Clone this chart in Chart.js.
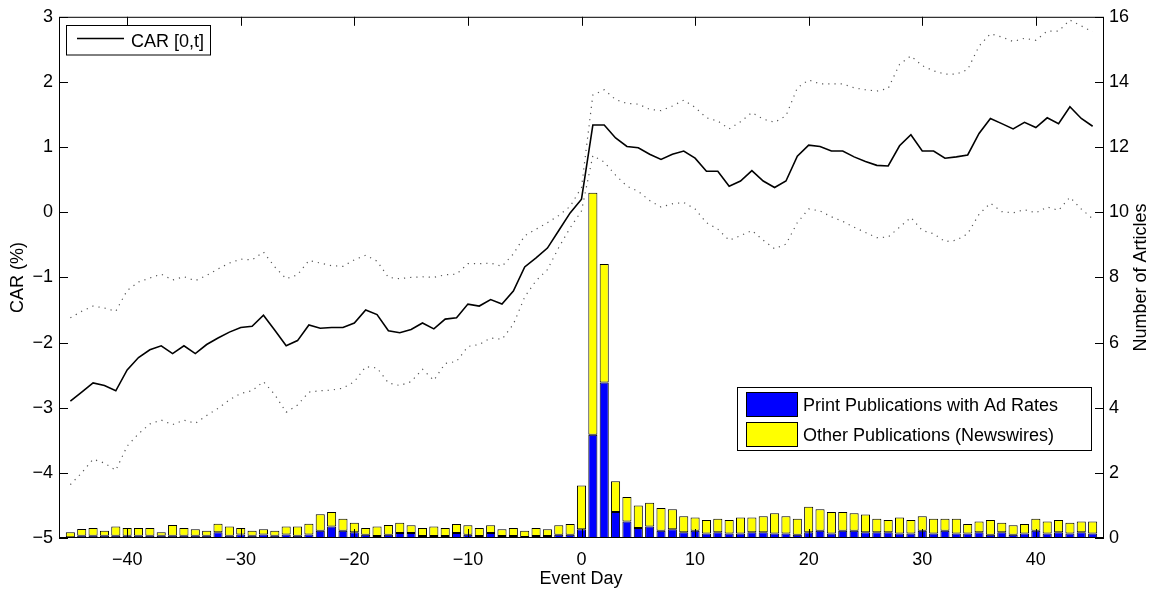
<!DOCTYPE html>
<html lang="en">
<head>
<meta charset="UTF-8">
<title>CAR [0,t] and articles per event day</title>
<script src="https://cdn.jsdelivr.net/npm/chart.js"></script>
<style>
  html, body { margin: 0; padding: 0; background: #fff; }
</style>
</head>
<body>
<canvas id="myChart" width="1155" height="592"></canvas>
<script>
// event days and values
const eventDays = [-45,-44,-43,-42,-41,-40,-39,-38,-37,-36,-35,-34,-33,-32,-31,-30,-29,-28,-27,-26,-25,-24,-23,-22,-21,-20,-19,-18,-17,-16,-15,-14,-13,-12,-11,-10,-9,-8,-7,-6,-5,-4,-3,-2,-1,
  0,1,2,3,4,5,6,7,8,9,10,11,12,13,14,15,16,17,18,19,20,21,22,23,24,25,26,27,28,29,30,31,32,33,34,35,36,37,38,39,40,41,42,43,44,45];

const car = [-2.90,-2.76,-2.62,-2.66,-2.74,-2.42,-2.23,-2.11,-2.05,-2.17,-2.05,-2.17,-2.03,-1.93,-1.84,-1.77,-1.75,-1.58,-1.81,-2.05,-1.97,-1.73,-1.78,-1.77,-1.77,-1.70,-1.50,-1.57,-1.82,-1.85,-1.80,-1.70,-1.79,-1.64,-1.62,-1.41,-1.44,-1.34,-1.41,-1.21,-0.84,-0.70,-0.55,-0.28,-0.01,
  0.20,1.34,1.34,1.14,1.01,0.99,0.89,0.81,0.89,0.94,0.83,0.63,0.63,0.40,0.48,0.64,0.48,0.38,0.48,0.86,1.03,1.01,0.94,0.94,0.85,0.78,0.72,0.71,1.02,1.19,0.94,0.94,0.83,0.85,0.88,1.21,1.44,1.36,1.28,1.38,1.30,1.45,1.36,1.62,1.44,1.32];

const carUpper = [-1.62,-1.52,-1.44,-1.47,-1.52,-1.20,-1.07,-1.01,-0.95,-1.04,-0.99,-1.05,-0.97,-0.87,-0.78,-0.72,-0.73,-0.61,-0.84,-1.02,-0.96,-0.74,-0.78,-0.82,-0.83,-0.73,-0.66,-0.75,-1.00,-1.02,-1.00,-0.99,-1.00,-0.96,-0.95,-0.79,-0.79,-0.78,-0.83,-0.64,-0.36,-0.26,-0.16,-0.05,0.09,
  0.38,1.80,1.88,1.73,1.67,1.66,1.58,1.56,1.63,1.72,1.61,1.45,1.40,1.28,1.39,1.53,1.43,1.38,1.48,1.91,2.03,1.97,1.97,1.97,1.91,1.88,1.86,1.90,2.27,2.40,2.25,2.17,2.12,2.12,2.19,2.55,2.74,2.69,2.62,2.67,2.64,2.78,2.78,2.95,2.86,2.77];

const carLower = [-4.18,-4.00,-3.79,-3.85,-3.96,-3.59,-3.40,-3.25,-3.19,-3.26,-3.19,-3.24,-3.12,-3.01,-2.88,-2.78,-2.74,-2.60,-2.80,-3.07,-2.96,-2.76,-2.74,-2.73,-2.70,-2.60,-2.37,-2.39,-2.62,-2.66,-2.60,-2.41,-2.58,-2.32,-2.29,-2.06,-2.03,-1.93,-1.95,-1.72,-1.30,-1.05,-0.88,-0.54,-0.24,
  0.02,0.87,0.77,0.57,0.40,0.32,0.18,0.08,0.13,0.15,0.05,-0.16,-0.26,-0.43,-0.36,-0.28,-0.43,-0.56,-0.49,-0.16,0.05,0.02,-0.07,-0.14,-0.23,-0.31,-0.39,-0.38,-0.23,-0.08,-0.28,-0.33,-0.45,-0.43,-0.33,-0.03,0.14,0.01,-0.01,0.04,-0.01,0.08,0.03,0.23,0.05,-0.10];

const printArticles = [0.02,0.07,0.07,0.07,0.07,0.07,0.07,0.07,0.07,0.07,0.07,0.07,0.07,0.18,0.07,0.11,0.07,0.11,0.07,0.11,0.07,0.11,0.22,0.35,0.22,0.18,0.10,0.06,0.10,0.15,0.15,0.06,0.06,0.06,0.15,0.10,0.06,0.15,0.06,0.06,0.03,0.06,0.06,0.10,0.10,
  0.27,3.17,4.77,0.80,0.51,0.31,0.35,0.22,0.27,0.18,0.22,0.14,0.18,0.14,0.14,0.18,0.18,0.14,0.14,0.10,0.18,0.22,0.14,0.22,0.22,0.18,0.18,0.18,0.14,0.14,0.22,0.14,0.22,0.14,0.14,0.18,0.10,0.18,0.10,0.14,0.22,0.14,0.18,0.14,0.18,0.14];

const otherArticles = [0.16,0.21,0.24,0.15,0.28,0.24,0.24,0.24,0.11,0.33,0.24,0.20,0.15,0.26,0.28,0.20,0.15,0.16,0.15,0.24,0.28,0.33,0.51,0.45,0.37,0.29,0.21,0.29,0.30,0.32,0.24,0.25,0.29,0.25,0.28,0.29,0.25,0.24,0.21,0.25,0.19,0.25,0.21,0.29,0.33,
  1.34,7.43,3.64,0.94,0.75,0.69,0.73,0.70,0.61,0.49,0.41,0.41,0.41,0.41,0.49,0.45,0.49,0.62,0.53,0.49,0.78,0.66,0.66,0.58,0.54,0.54,0.41,0.37,0.49,0.41,0.45,0.45,0.37,0.45,0.29,0.33,0.45,0.29,0.29,0.29,0.37,0.37,0.37,0.33,0.33,0.37];

const dayTicks = [-40, -30, -20, -10, 0, 10, 20, 30, 40];
const carTicks = [-5, -4, -3, -2, -1, 0, 1, 2, 3];
const articleTicks = [0, 2, 4, 6, 8, 10, 12, 14, 16];

const FONT = 'Liberation Sans, Arial, Helvetica, sans-serif';
const tickFont = { family: FONT, size: 18 };
const TICK_LEN = 9;

function minus(v) {
    return String(v).replace('-', '\u2212');
}

// box, inward ticks on every side, axis titles and the two legend boxes (like matlab)
const matlabFrame = {
    id: 'matlabFrame',
    afterDraw(chart) {
        const { ctx, chartArea: a, scales } = chart;
        ctx.save();
        ctx.strokeStyle = '#000';
        ctx.lineWidth = 1;
        ctx.strokeRect(a.left + 0.5, a.top + 0.5, a.right - a.left - 1, a.bottom - a.top - 1);

        ctx.beginPath();
        scales.x.ticks.forEach(t => {
            const px = Math.round(scales.x.getPixelForValue(t.value)) + 0.5;
            ctx.moveTo(px, a.bottom); ctx.lineTo(px, a.bottom - TICK_LEN);
            ctx.moveTo(px, a.top); ctx.lineTo(px, a.top + TICK_LEN);
        });
        scales.y.ticks.forEach(t => {
            const py = Math.round(scales.y.getPixelForValue(t.value)) + 0.5;
            ctx.moveTo(a.left, py); ctx.lineTo(a.left + TICK_LEN, py);
        });
        scales.y2.ticks.forEach(t => {
            const py = Math.round(scales.y2.getPixelForValue(t.value)) + 0.5;
            ctx.moveTo(a.right, py); ctx.lineTo(a.right - TICK_LEN, py);
        });
        ctx.stroke();

        // axis titles
        ctx.fillStyle = '#000';
        ctx.font = '18px ' + FONT;
        ctx.textAlign = 'center';
        ctx.textBaseline = 'middle';
        const midY = (a.top + a.bottom) / 2;
        ctx.fillText('Event Day', 581, 579);
        ctx.save();
        ctx.translate(18, midY);
        ctx.rotate(-Math.PI / 2);
        ctx.fillText('CAR (%)', 0, 0);
        ctx.restore();
        ctx.save();
        ctx.translate(1141, midY);
        ctx.rotate(-Math.PI / 2);
        ctx.fillText('Number of Articles', 0, 0);
        ctx.restore();

        // legend: CAR line
        ctx.textAlign = 'left';
        ctx.textBaseline = 'alphabetic';
        ctx.fillStyle = '#fff';
        ctx.fillRect(66.5, 25.5, 144, 29.5);
        ctx.strokeRect(66.5, 25.5, 144, 29.5);
        ctx.beginPath();
        ctx.lineWidth = 1.5;
        ctx.moveTo(77, 38.5); ctx.lineTo(124, 38.5);
        ctx.stroke();
        ctx.lineWidth = 1;
        ctx.fillStyle = '#000';
        ctx.fillText('CAR [0,t]', 131, 46.5);

        // legend: article bars
        ctx.fillStyle = '#fff';
        ctx.fillRect(737.5, 387.5, 354, 63);
        ctx.strokeRect(737.5, 387.5, 354, 63);
        ctx.fillStyle = '#0000ff';
        ctx.fillRect(746.5, 392.5, 51, 24);
        ctx.strokeRect(746.5, 392.5, 51, 24);
        ctx.fillStyle = '#ffff00';
        ctx.fillRect(746.5, 422.5, 51, 24);
        ctx.strokeRect(746.5, 422.5, 51, 24);
        ctx.fillStyle = '#000';
        ctx.fillText('Print Publications with Ad Rates', 803, 411);
        ctx.fillText('Other Publications (Newswires)', 803, 441);
        ctx.restore();
    }
};

const ctx = document.getElementById('myChart').getContext('2d');
new Chart(ctx, {
    data: {
        labels: eventDays,
        datasets: [
            {
                type: 'line', label: 'CAR [0,t]', data: car, yAxisID: 'y',
                borderColor: '#000', borderWidth: 1.6, pointRadius: 0, tension: 0, order: 1
            },
            {
                type: 'line', label: 'upper', data: carUpper, yAxisID: 'y',
                borderColor: '#555', borderWidth: 1.2, borderDash: [1.2, 5], pointRadius: 0, tension: 0, order: 1
            },
            {
                type: 'line', label: 'lower', data: carLower, yAxisID: 'y',
                borderColor: '#555', borderWidth: 1.2, borderDash: [1.2, 5], pointRadius: 0, tension: 0, order: 1
            },
            {
                type: 'bar', label: 'Print Publications with Ad Rates', data: printArticles, yAxisID: 'y2',
                backgroundColor: '#0000ff', borderColor: '#000', borderWidth: 1, borderSkipped: false,
                barPercentage: 0.8, categoryPercentage: 1, order: 2
            },
            {
                type: 'bar', label: 'Other Publications (Newswires)', data: otherArticles, yAxisID: 'y2',
                backgroundColor: '#ffff00', borderColor: '#000', borderWidth: 1, borderSkipped: false,
                barPercentage: 0.8, categoryPercentage: 1, order: 2
            }
        ]
    },
    options: {
        responsive: false,
        animation: false,
        layout: { padding: { top: 16, left: 0, right: 0, bottom: 0 } },
        plugins: {
            legend: { display: false },
            tooltip: { enabled: false }
        },
        scales: {
            x: {
                type: 'linear', min: -46, max: 46, stacked: true, offset: false,
                grid: { display: false, drawTicks: false }, border: { display: false },
                afterBuildTicks: s => { s.ticks = dayTicks.map(v => ({ value: v })); },
                afterFit: s => { s.height = 54; },
                ticks: { font: tickFont, color: '#000', padding: 11, maxRotation: 0, callback: v => minus(v) }
            },
            y: {
                position: 'left', min: -5, max: 3,
                grid: { display: false, drawTicks: false }, border: { display: false },
                afterBuildTicks: s => { s.ticks = carTicks.map(v => ({ value: v })); },
                afterFit: s => { s.width = 59; },
                ticks: { font: tickFont, color: '#000', padding: 6, callback: v => minus(v) }
            },
            y2: {
                position: 'right', min: 0, max: 16, stacked: true,
                grid: { display: false, drawTicks: false }, border: { display: false },
                afterBuildTicks: s => { s.ticks = articleTicks.map(v => ({ value: v })); },
                afterFit: s => { s.width = 51; },
                ticks: { font: tickFont, color: '#000', padding: 5 }
            }
        }
    },
    plugins: [matlabFrame]
});
</script>
</body>
</html>
